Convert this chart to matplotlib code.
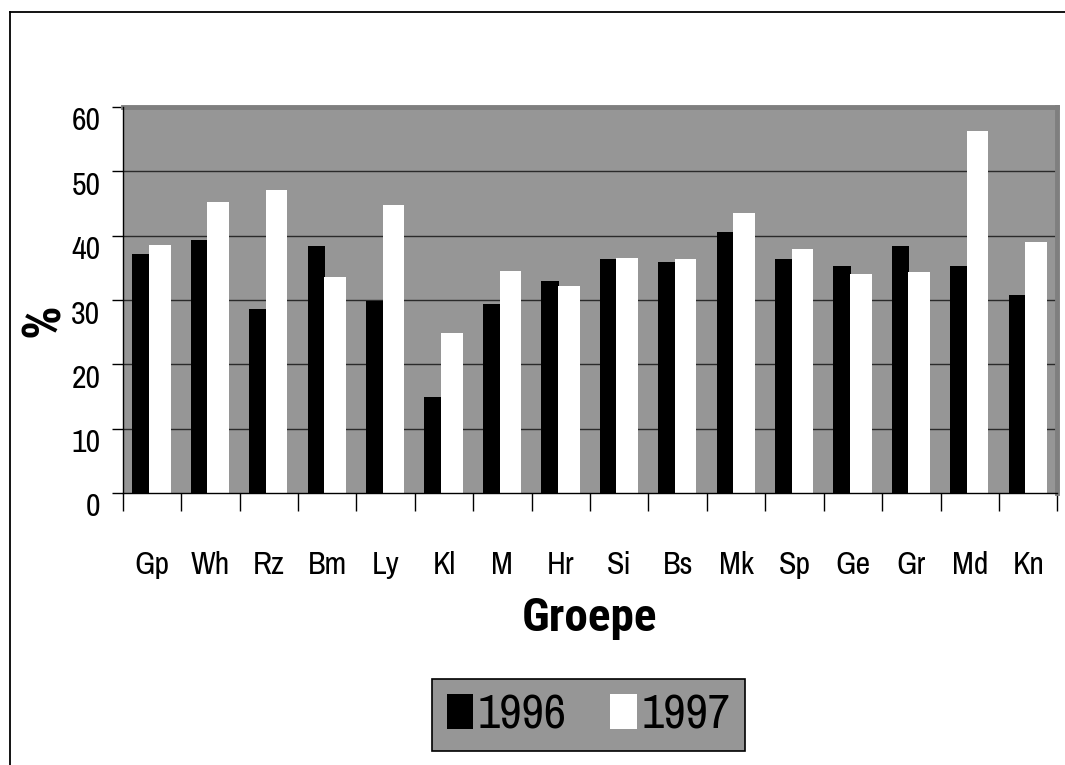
import matplotlib
matplotlib.use("Agg")
import matplotlib.pyplot as plt
import numpy as np
from matplotlib import font_manager
from matplotlib.lines import Line2D
from matplotlib.patches import Patch
from matplotlib.transforms import ScaledTranslation

# Groups and percentages per year
groups = ["Gp", "Wh", "Rz", "Bm", "Ly", "Kl", "M", "Hr", "Si", "Bs",
          "Mk", "Sp", "Ge", "Gr", "Md", "Kn"]
pct_1996 = [37.1, 39.3, 28.6, 38.4, 29.8, 15.0, 29.4, 33.0, 36.4, 35.9,
            40.5, 36.4, 35.3, 38.4, 35.3, 30.7]
pct_1997 = [38.5, 45.3, 47.1, 33.5, 44.8, 24.9, 34.5, 32.2, 36.6, 36.4,
            43.6, 37.9, 34.1, 34.4, 56.3, 39.0]
series_names = ["1996", "1997"]
y_ticks = [0, 10, 20, 30, 40, 50, 60]

fonts = font_manager.fontManager.ttflist
available = {f.name for f in fonts}
family = [n for n in ["Archivo Narrow", "Roboto Condensed", "Liberation Sans"]
          if n in available] + ["DejaVu Sans"]
# narrow family that also ships a bold face, for the axis titles
bold_family = [n for n in ["Roboto Condensed", "PT Sans Narrow",
                           "Open Sans Condensed", "Liberation Sans"]
               if any(f.name == n and f.weight in (700, "bold") for f in fonts)]
bold_family += ["DejaVu Sans"]
plt.rcParams["font.family"] = family

W, H = 1065, 765
fig = plt.figure(figsize=(W / 100, H / 100), dpi=100)
fig.patch.set_facecolor("white")

x0, x1, y_top, y_bot = 122.7, 1057.4, 107, 493
ax = fig.add_axes([x0 / W, 1 - y_bot / H, (x1 - x0) / W, (y_bot - y_top) / H])
ax.set_facecolor("#969696")

idx = np.arange(len(groups))
ax.bar(idx + 0.165, pct_1996, width=0.30, align="edge", color="black",
       linewidth=0, zorder=3)
ax.bar(idx + 0.45, pct_1997, width=0.37, align="edge", color="white",
       linewidth=0, zorder=4)

ax.set_xlim(0, len(groups))
ax.set_ylim(0, 60)

# y axis
ax.set_yticks(y_ticks)
ax.set_yticklabels([str(v) for v in y_ticks])
ax.tick_params(axis="y", direction="out", length=8, width=1, pad=8,
               labelsize=23, color="black")
for v in y_ticks[1:-1]:
    ax.axhline(v, color="#2a2a2a", linewidth=1.0, zorder=1)
shift = ScaledTranslation(0, -0.12, fig.dpi_scale_trans)
for lab in ax.get_yticklabels():
    lab.set_transform(lab.get_transform() + shift)

# x axis: ticks at group boundaries, labels at group centres
ax.set_xticks(np.arange(len(groups) + 1))
ax.set_xticklabels([])
ax.set_xticks(idx + 0.5, minor=True)
ax.set_xticklabels(groups, minor=True)
ax.tick_params(axis="x", which="major", direction="out", length=13, width=1,
               color="black")
ax.tick_params(axis="x", which="minor", length=0, pad=42, labelsize=23)

for side in ["left", "bottom"]:
    ax.spines[side].set_color("black")
    ax.spines[side].set_linewidth(1.0)
for side in ["top", "right"]:
    ax.spines[side].set_color("#7f7f7f")
    ax.spines[side].set_linewidth(3.5)
ax.spines["left"].set_zorder(6)
ax.spines["bottom"].set_zorder(6)

# axis titles
fig.text(590 / W, 1 - 631 / H, "Groepe", fontsize=34, fontweight="bold",
         family=bold_family, ha="center", va="baseline")
fig.text(45 / W, 1 - 320 / H, "%", fontsize=38, fontweight="bold",
         family=bold_family, rotation=90, ha="center", va="center")

# legend
handles = [Patch(facecolor="black", edgecolor="none"),
           Patch(facecolor="white", edgecolor="none")]
leg = fig.legend(handles, series_names, loc="center",
                 bbox_to_anchor=(588.5 / W, 1 - 715 / H), ncol=2,
                 fontsize=35, frameon=True, fancybox=False,
                 facecolor="#969696", edgecolor="black", framealpha=1,
                 handlelength=0.54, handleheight=0.7, handletextpad=0.1,
                 columnspacing=0.9, borderpad=0.3, borderaxespad=0)
leg.get_frame().set_linewidth(1.2)

# outer frame of the chart
fig.add_artist(Line2D([10 / W, 10 / W], [0, 1 - 12 / H], color="black",
                      linewidth=1.3, transform=fig.transFigure))
fig.add_artist(Line2D([10 / W, 1], [1 - 12 / H, 1 - 12 / H], color="black",
                      linewidth=1.3, transform=fig.transFigure))

fig.savefig("out.png", dpi=100)
